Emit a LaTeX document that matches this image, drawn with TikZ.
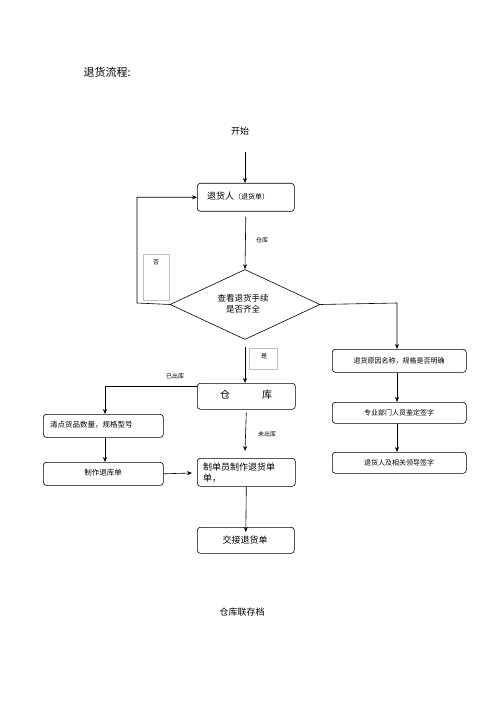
\documentclass[tikz,border=0pt]{standalone}
\usepackage{fontspec}
\newfontfamily\cjk{Noto Sans CJK SC}
\usetikzlibrary{shapes.geometric,arrows.meta}
\begin{document}
\begin{tikzpicture}[x=1pt,y=-1pt,
  every node/.style={font=\cjk},
  box/.style={draw,rounded corners=3pt,line width=0.6pt,inner sep=0pt,anchor=north west},
  arr/.style={-{Stealth[length=5pt,width=4pt]},line width=0.6pt},
  ln/.style={line width=0.6pt},
  lbl/.style={font=\cjk\fontsize{6}{7}\selectfont,inner sep=0pt},
  lblbox/.style={draw=black!25,line width=0.4pt,inner sep=0pt,anchor=north west}]
\useasboundingbox (0,0) rectangle (500,708);
% title
\node[anchor=west,font=\cjk\fontsize{11}{13}\selectfont] (title) at (80,72) {退货流程:};
\node[font=\cjk\fontsize{9}{11}\selectfont] (start) at (240,131) {开始};
% boxes
\node[box,minimum width=97pt,minimum height=28pt] (b1) at (197,183) {};
\node[anchor=west,font=\cjk\fontsize{9}{11}\selectfont,inner sep=0pt] (b1t) at (207,196) {退货人\fontsize{7}{9}\selectfont（退货单）};
\node[diamond,draw,line width=0.6pt,minimum width=150pt,minimum height=70pt,inner sep=0pt,aspect=2.14] (d) at (245,304.5) {};
\node[font=\cjk\fontsize{8.5}{11}\selectfont,align=center] (dt) at (243,304) {查看退货手续\\是否齐全};
\node[box,minimum width=98pt,minimum height=26pt] (wh) at (197,383) {};
\node[font=\cjk\fontsize{10}{12}\selectfont] (wht) at (246,395) {仓\hspace{32pt}库};
\node[box,minimum width=120pt,minimum height=23pt] (cd) at (43,414) {};
\node[anchor=west,font=\cjk\fontsize{7.5}{9}\selectfont,inner sep=0pt] (cdt) at (50,425) {清点货品数量，规格型号};
\node[box,minimum width=120pt,minimum height=23pt] (zt) at (43,462) {};
\node[font=\cjk\fontsize{7.5}{9}\selectfont,inner sep=0pt] (ztt) at (103,473) {制作退库单};
\node[box,minimum width=98pt,minimum height=28pt] (zd) at (197,458) {};
\node[anchor=north west,font=\cjk\fontsize{9}{11}\selectfont,inner sep=0pt,align=left] (zdt) at (203,463) {制单员制作退货单\\单，};
\node[box,minimum width=97pt,minimum height=26pt] (jj) at (197,527) {};
\node[font=\cjk\fontsize{9}{11}\selectfont] (jjt) at (245,540) {交接退货单};
\node[box,minimum width=134pt,minimum height=23pt] (r1) at (332,349) {};
\node[font=\cjk\fontsize{7}{9}\selectfont] (r1t) at (399,360.5) {退货原因名称，规格是否明确};
\node[box,minimum width=134pt,minimum height=21pt] (r2) at (332,402) {};
\node[font=\cjk\fontsize{7}{9}\selectfont] (r2t) at (399,412.5) {专业部门人员鉴定签字};
\node[box,minimum width=134pt,minimum height=21pt] (r3) at (332,452) {};
\node[font=\cjk\fontsize{7}{9}\selectfont] (r3t) at (399,462.5) {退货人及相关领导签字};
\node[font=\cjk\fontsize{9}{11}\selectfont] (end) at (242,612) {仓库联存档};
% label boxes
\node[lblbox,minimum width=26pt,minimum height=46pt] (nob) at (143,254) {};
\node[lbl] (no) at (156,262) {否};
\node[lblbox,minimum width=28pt,minimum height=21pt] (yesb) at (249,348) {};
\node[lbl] (yes) at (264,356) {是};
% coordinates
\coordinate (s0) at (245,152);
\coordinate (lp) at (137,303);
\coordinate (rp) at (397,303);
\coordinate (yd) at (245,347);
\coordinate (wl) at (197,386);
\coordinate (cl) at (105,386);
\coordinate (zdin) at (192,473);
\coordinate (zdtop) at (245,451);
% connectors
\draw[arr] (s0) -- (b1.north -| s0);
\draw[arr] (b1.south) ++(0,5) -- (d.north);
\node[lbl,anchor=west] (l1) at (256,240) {仓库};
\draw[arr] (d.west) -- (lp) |- (b1.west);
\draw[arr] (d.east) -- (rp) -- (r1.north -| rp);
\draw[arr] (r1.south -| rp) -- (r2.north -| rp);
\draw[arr] (r2.south -| rp) -- (r3.north -| rp);
\draw[arr] (yd) -- (wh.north -| yd);
\draw[arr] (wl) -- (cl) -- (cd.north -| cl);
\node[lbl] (l2) at (175,376) {已出库};
\draw[arr] (cd.south -| cl) -- (zt.north -| cl);
\draw[arr] (zt.east) -- (zdin);
\draw[arr] (wh.south) ++(0,3) -- (zdtop);
\node[lbl] (l3) at (267,434) {未出库};
\draw[arr] (zd.south) -- ([yshift=-5pt]jj.north);
\end{tikzpicture}
\end{document}
